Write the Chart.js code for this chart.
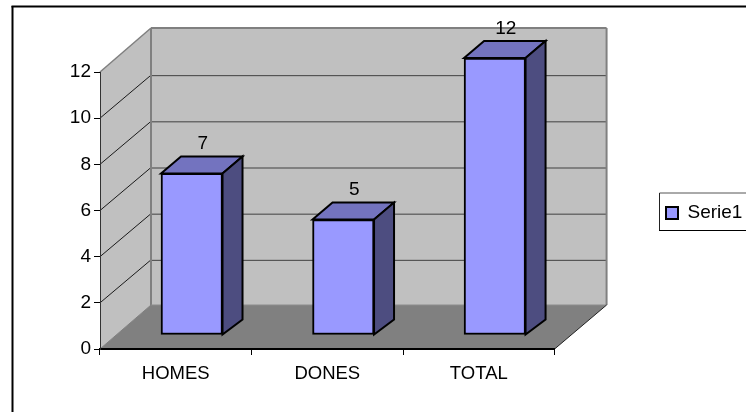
<!DOCTYPE html>
<html>
<head>
<meta charset="utf-8">
<title>Serie1</title>
<script src="https://cdn.jsdelivr.net/npm/chart.js@4"></script>
<style>
html, body { margin: 0; padding: 0; background: #fff; }
canvas { display: block; }
</style>
</head>
<body>
<canvas id="chart" width="746" height="412"></canvas>
<script>
var categories = ['HOMES', 'DONES', 'TOTAL'];
var seriesName = 'Serie1';
var seriesValues = [7, 5, 12];

var FONT = '"Liberation Sans", Arial, sans-serif';
var FONT_SIZE = 19;

/* Depth of the fake 3D box */
var wallDx = 51, wallDy = 44, gridDy = 43;
/* Where the bars stand on the floor, and how deep they are */
var barDx = 16, barDy = 14;
var depthX = 20, depthTop = 17, depthBottom = 15;

function polygon(ctx, points, fill, stroke, width) {
	ctx.beginPath();
	ctx.moveTo(points[0][0], points[0][1]);
	for (var i = 1; i < points.length; i++) {
		ctx.lineTo(points[i][0], points[i][1]);
	}
	ctx.closePath();
	if (fill) {
		ctx.fillStyle = fill;
		ctx.fill();
	}
	if (stroke) {
		ctx.strokeStyle = stroke;
		ctx.lineWidth = width;
		ctx.lineJoin = 'miter';
		ctx.stroke();
	}
}

function line(ctx, x1, y1, x2, y2, color, width) {
	ctx.beginPath();
	ctx.moveTo(x1, y1);
	ctx.lineTo(x2, y2);
	ctx.strokeStyle = color;
	ctx.lineWidth = width;
	ctx.stroke();
}

/* White page, the frame, the walls and the floor */
var box3d = {
	id: 'box3d',
	afterLayout: function (chart) {
		var legend = chart.legend;
		var w = legend.right - legend.left;
		var h = legend.bottom - legend.top;
		legend.left = 659;
		legend.right = 659 + w;
		legend.top = 213 - h / 2;
		legend.bottom = 213 + h / 2;
	},
	beforeDraw: function (chart) {
		var ctx = chart.ctx;
		var a = chart.chartArea;
		var y = chart.scales.y;
		var l = a.left, r = a.right, t = y.getPixelForValue(12), b = y.getPixelForValue(0);

		ctx.save();
		ctx.fillStyle = '#fff';
		ctx.fillRect(0, 0, chart.width, chart.height);

		// chart frame, runs off the right and bottom of the picture
		line(ctx, 12.5, 412, 12.5, 6, '#000', 2);
		line(ctx, 11.5, 6.5, 746, 6.5, '#000', 2);

		// legend frame
		line(ctx, 746, 193, 659.5, 193, '#555', 1);
		line(ctx, 659.5, 193, 659.5, 230, '#222', 1);
		line(ctx, 659, 230.5, 746, 230.5, '#000', 1);

		polygon(ctx, [[l, t], [l + wallDx, t - wallDy], [l + wallDx, b - wallDy], [l, b]], '#C0C0C0');
		polygon(ctx, [[l + wallDx, t - wallDy], [r + wallDx + 1, t - wallDy], [r + wallDx + 1, b - wallDy], [l + wallDx, b - wallDy]], '#C0C0C0');
		polygon(ctx, [[l, b], [l + wallDx, b - wallDy], [r + wallDx + 1, b - wallDy], [r, b]], '#808080');

		// grid runs up the side wall then along the back wall
		y.ticks.forEach(function (tick) {
			if (tick.value > 0 && tick.value < 12) {
				var py = y.getPixelForValue(tick.value);
				line(ctx, l, py, l + wallDx, py - gridDy, '#1a1a1a', 1);
				line(ctx, l + wallDx, py - gridDy + 0.5, r + wallDx + 1, py - gridDy + 0.5, '#404040', 1);
			}
		});

		// grey edges of the walls
		line(ctx, l, t, l + wallDx, t - wallDy, '#808080', 1.5);
		line(ctx, l + wallDx, b - wallDy, l + wallDx, t - wallDy, '#808080', 2);
		line(ctx, l + wallDx, t - wallDy, r + wallDx + 1, t - wallDy, '#808080', 2);
		line(ctx, r + wallDx + 1, t - wallDy, r + wallDx + 1, b - wallDy, '#808080', 2);
		line(ctx, l + wallDx, b - wallDy, r + wallDx + 1, b - wallDy, '#8c8c8c', 1);
		line(ctx, l, b, l + wallDx, b - wallDy, '#808080', 1);
		line(ctx, r, b, r + wallDx + 1, b - wallDy, '#222', 1);
		ctx.restore();
	},
	beforeDatasetsDraw: function (chart) {
		chart.ctx.save();
		chart.ctx.translate(barDx, -barDy);
	},
	afterDatasetsDraw: function (chart) {
		var ctx = chart.ctx;
		ctx.restore();
		ctx.save();
		chart.getDatasetMeta(0).data.forEach(function (bar, i) {
			var left = bar.x - bar.width / 2 + barDx;
			var right = bar.x + bar.width / 2 + barDx;
			var top = bar.y - barDy;
			var base = bar.base - barDy;

			polygon(ctx, [[left, top], [left + depthX, top - depthTop], [right + depthX, top - depthTop], [right, top]], '#7373BF', '#000', 2);
			polygon(ctx, [[right, top], [right + depthX, top - depthTop], [right + depthX, base - depthBottom], [right, base]], '#4D4D80', '#000', 2);

			ctx.fillStyle = '#000';
			ctx.font = FONT_SIZE + 'px ' + FONT;
			ctx.textAlign = 'center';
			ctx.textBaseline = 'middle';
			ctx.fillText(seriesValues[i], (left + right) / 2 + 11, top - 29.5);
		});
		ctx.restore();
	}
};

new Chart(document.getElementById('chart'), {
	type: 'bar',
	data: {
		labels: categories,
		datasets: [{
			label: seriesName,
			data: seriesValues,
			backgroundColor: '#9999FF',
			borderColor: '#000',
			borderWidth: 2,
			borderSkipped: false,
			barThickness: 61.5,
			clip: false
		}]
	},
	options: {
		responsive: false,
		animation: false,
		layout: {
			padding: { left: 0, top: 72, right: 98, bottom: 0 }
		},
		font: { family: FONT, size: FONT_SIZE },
		scales: {
			x: {
				afterFit: function (scale) { scale.height = 63; },
				border: { color: '#000', width: 2 },
				grid: { drawOnChartArea: false, color: '#000', tickLength: 6 },
				ticks: {
					color: '#000',
					padding: 8,
					maxRotation: 0,
					font: { family: FONT, size: 18.5 }
				}
			},
			y: {
				min: 0,
				max: 12,
				afterFit: function (scale) { scale.width = 100; },
				border: { color: '#333', width: 1 },
				grid: { drawOnChartArea: false, color: '#000', tickLength: 6 },
				ticks: {
					stepSize: 2,
					color: '#000',
					padding: 3,
					font: { family: FONT, size: FONT_SIZE }
				}
			}
		},
		plugins: {
			tooltip: { enabled: false },
			legend: {
				position: 'right',
				labels: {
					boxWidth: 12,
					boxHeight: 12,
					padding: 7,
					color: '#000',
					font: { family: FONT, size: FONT_SIZE }
				}
			}
		}
	},
	plugins: [box3d]
});
</script>
</body>
</html>
